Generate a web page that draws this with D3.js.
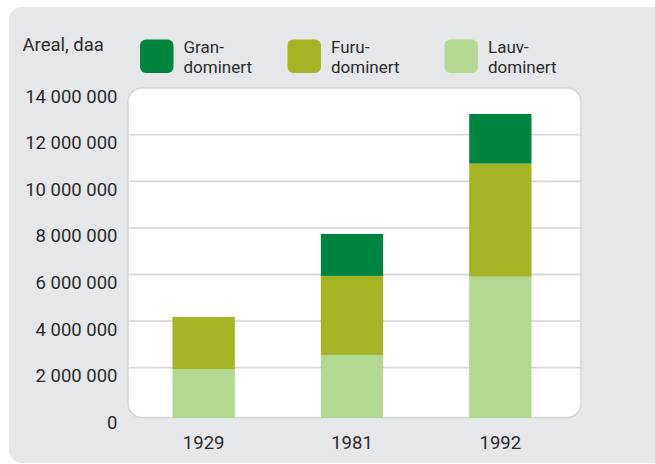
<!DOCTYPE html>
<html><head><meta charset="utf-8">
<script src="https://cdn.jsdelivr.net/npm/d3@7/dist/d3.min.js"></script>
<style>html,body{margin:0;padding:0;background:#fff}svg{display:block}</style>
</head><body>
<script>
const years = ["1929", "1981", "1992"];
const lauv = [1940000, 2550000, 5910000];
const furu = [2240000, 3390000, 4850000];
const gran = [0, 1800000, 2130000];
const seriesNames = ["Lauv-dominert", "Furu-dominert", "Gran-dominert"];
const legendLabels = [["Gran-", "dominert"], ["Furu-", "dominert"], ["Lauv-", "dominert"]];
const yTicks = [0, 2000000, 4000000, 6000000, 8000000, 10000000, 12000000, 14000000];
const yTitle = "Areal, daa";

const colors = { "Gran-dominert": "#00843f", "Furu-dominert": "#a4b425", "Lauv-dominert": "#b3d891" };
const legendColors = ["#00843f", "#a4b425", "#b3d891"];
const W = 655, H = 464;
const font = "Roboto, 'Liberation Sans', sans-serif";
const textCol = "#2b2b2b";

const svg = d3.select("body").append("svg").attr("width", W).attr("height", H);

// grey panel
svg.append("rect").attr("x", 9).attr("y", 7).attr("width", 660).attr("height", 456)
  .attr("rx", 13).attr("fill", "#e6e7e8");

const plot = { left: 128, right: 581, top: 88, bottom: 417.5 };
svg.append("rect").attr("x", plot.left).attr("y", plot.top)
  .attr("width", plot.right - plot.left).attr("height", plot.bottom - plot.top)
  .attr("rx", 14).attr("fill", "#fff").attr("stroke", "#d6d6d6").attr("stroke-width", 1.5);

const x = d3.scaleBand().domain(years).range([128, 576]).paddingInner(0.58).paddingOuter(0.3);
const y = d3.scaleLinear().domain([0, 14000000]).range([414.3, 88.1]);

// gridlines
svg.append("g").selectAll("line").data(yTicks.filter(t => t > 0 && t < 14000000)).join("line")
  .attr("x1", plot.left + 1).attr("x2", plot.right - 1)
  .attr("y1", d => y(d)).attr("y2", d => y(d))
  .attr("stroke", "#d9d9d9").attr("stroke-width", 1.8);

// stacked bars
const table = years.map((yr, i) => ({ year: yr, "Lauv-dominert": lauv[i], "Furu-dominert": furu[i], "Gran-dominert": gran[i] }));
const stack = d3.stack().keys(seriesNames)(table);
svg.append("g").selectAll("g").data(stack).join("g")
  .attr("fill", d => colors[d.key])
  .selectAll("rect").data(d => d.filter(s => s[1] > s[0])).join("rect")
  .attr("x", d => x(d.data.year))
  .attr("width", x.bandwidth())
  .attr("y", d => y(d[1]))
  .attr("height", d => (d[0] === 0 ? plot.bottom + 0.5 : y(d[0])) - y(d[1]));

// y axis labels
const fmt = v => d3.format(",")(v).replace(/,/g, " ");
svg.append("g").selectAll("text").data(yTicks).join("text")
  .attr("x", 117.5).attr("y", d => y(d) + 14.5)
  .attr("text-anchor", "end").attr("font-family", font).attr("font-size", 18.5)
  .attr("fill", textCol).text(fmt);

// x axis labels
svg.append("g").selectAll("text").data(years).join("text")
  .attr("x", d => x(d) + x.bandwidth() / 2).attr("y", 449)
  .attr("text-anchor", "middle").attr("font-family", font).attr("font-size", 18.5)
  .attr("fill", textCol).text(d => d);

// title
svg.append("text").attr("x", 22.5).attr("y", 51).attr("font-family", font)
  .attr("font-size", 18.5).attr("fill", textCol).text(yTitle);

// legend
const legX = [140, 287.5, 444.5];
const leg = svg.append("g").selectAll("g").data(legendLabels).join("g")
  .attr("transform", (d, i) => `translate(${legX[i]},39.5)`);
leg.append("rect").attr("width", 33.5).attr("height", 33.5).attr("rx", 6)
  .attr("fill", (d, i) => legendColors[i]);
leg.append("text").attr("x", 43.5).attr("y", 13).attr("font-family", font)
  .attr("font-size", 17).attr("fill", textCol).text(d => d[0]);
leg.append("text").attr("x", 43.5).attr("y", 33.5).attr("font-family", font)
  .attr("font-size", 17).attr("fill", textCol).text(d => d[1]);
</script>
</body></html>
